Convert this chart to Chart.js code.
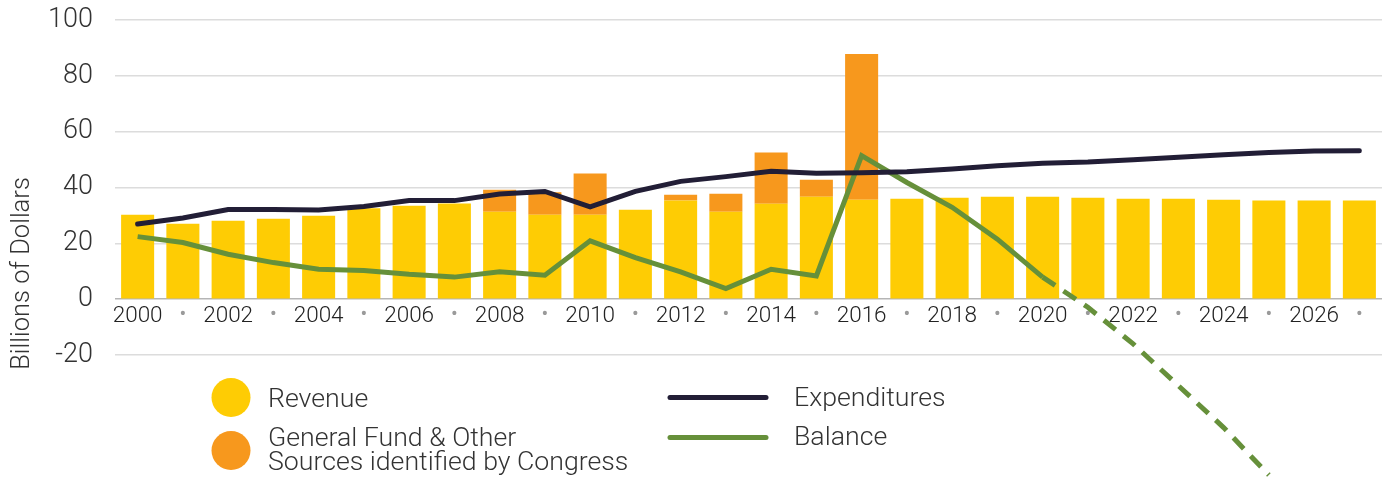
<!DOCTYPE html>
<html>
<head>
<meta charset="utf-8">
<script src="https://cdn.jsdelivr.net/npm/chart.js@4"></script>
<style>
  body { margin: 0; background: #fff; }
  #wrap { width: 1386px; height: 483px; position: relative; }
</style>
</head>
<body>
<div id="wrap"><canvas id="trustChart"></canvas></div>
<script>
const years = ['2000','2001','2002','2003','2004','2005','2006','2007','2008','2009',
    '2010','2011','2012','2013','2014','2015','2016','2017','2018','2019',
    '2020','2021','2022','2023','2024','2025','2026','2027'];

const revenue = [30.2, 27.0, 28.1, 28.8, 29.9, 32.6, 33.5, 34.3, 31.3, 30.2,
    30.2, 32.0, 35.3, 31.3, 34.2, 36.7, 35.6, 36.0, 36.3, 36.7,
    36.7, 36.3, 36.0, 36.0, 35.6, 35.3, 35.3, 35.3];

const generalFund = [0, 0, 0, 0, 0, 0, 0, 0, 7.9, 8.1,
    14.8, 0, 2.1, 6.5, 18.3, 6.1, 52.2, 0, 0, 0,
    0, 0, 0, 0, 0, 0, 0, 0];

const expenditures = [26.9, 29.1, 32.1, 32.1, 31.9, 33.2, 35.3, 35.3, 37.7, 38.6,
    33.1, 38.6, 42.2, 43.9, 45.8, 45.1, 45.3, 45.6, 46.6, 47.8,
    48.7, 49.1, 49.9, 50.8, 51.7, 52.5, 53.1, 53.2];

// projected part (after 2020) is drawn dashed
const balance = [22.4, 20.3, 16.1, 13.1, 10.7, 10.3, 8.9, 7.9, 9.8, 8.6,
    20.9, 14.9, 9.8, 3.8, 10.7, 8.3, 51.4, 41.8, 32.9, 21.5,
    7.9, -2.9, -16, -31, -46, -63, null, null];

const yTicks = [-20, 0, 20, 40, 60, 80, 100];

const YELLOW = '#FECC04';
const ORANGE = '#F7981D';
const NAVY = '#221E36';
const GREEN = '#66903A';
const FONT = 'Roboto, "Noto Sans", sans-serif';

// legend + axis title drawn by hand, the layout is too odd for the built-in legend
const customLegend = {
    id: 'customLegend',
    afterDraw(chart) {
        const ctx = chart.ctx;
        const ds = chart.data.datasets;
        ctx.save();

        ctx.fillStyle = '#333';
        ctx.font = '300 25.5px ' + FONT;
        ctx.translate(29, 273.5);
        ctx.rotate(-Math.PI / 2);
        ctx.textAlign = 'center';
        ctx.textBaseline = 'alphabetic';
        ctx.fillText('Billions of Dollars', 0, 0);
        ctx.setTransform(1, 0, 0, 1, 0, 0);

        ctx.font = '300 26.7px ' + FONT;
        ctx.textAlign = 'left';

        ctx.fillStyle = ds[0].backgroundColor;
        ctx.beginPath();
        ctx.arc(231, 397.5, 19.5, 0, Math.PI * 2);
        ctx.fill();
        ctx.fillStyle = '#333';
        ctx.fillText(ds[0].label, 268, 406.5);

        ctx.fillStyle = ds[1].backgroundColor;
        ctx.beginPath();
        ctx.arc(231, 450.5, 19.5, 0, Math.PI * 2);
        ctx.fill();
        ctx.fillStyle = '#333';
        const parts = ds[1].label.split('\n');
        ctx.fillText(parts[0], 268, 446);
        ctx.fillText(parts[1], 268, 470);

        ctx.lineWidth = 5;
        ctx.lineCap = 'round';
        [[ds[2], 397.5, 406], [ds[3], 437.5, 445]].forEach(([d, ly, ty]) => {
            ctx.strokeStyle = d.borderColor;
            ctx.beginPath();
            ctx.moveTo(670, ly);
            ctx.lineTo(766, ly);
            ctx.stroke();
            ctx.fillStyle = '#333';
            ctx.fillText(d.label, 794, ty);
        });

        ctx.restore();
    }
};

new Chart(document.getElementById('trustChart'), {
    data: {
        labels: years,
        datasets: [
            {
                type: 'bar',
                label: 'Revenue',
                data: revenue,
                backgroundColor: YELLOW,
                stack: 'funds',
                order: 3
            },
            {
                type: 'bar',
                label: 'General Fund & Other\nSources identified by Congress',
                data: generalFund,
                backgroundColor: ORANGE,
                stack: 'funds',
                order: 3
            },
            {
                type: 'line',
                label: 'Expenditures',
                data: expenditures,
                borderColor: NAVY,
                borderWidth: 5,
                borderCapStyle: 'round',
                pointRadius: 0,
                tension: 0,
                stack: 'exp',
                order: 1
            },
            {
                type: 'line',
                label: 'Balance',
                data: balance,
                borderColor: GREEN,
                borderWidth: 5,
                borderCapStyle: 'butt',
                pointRadius: 0,
                tension: 0,
                clip: false,
                spanGaps: false,
                stack: 'bal',
                order: 2,
                segment: {
                    borderDash: c => c.p0DataIndex >= 20 ? [15, 10] : undefined
                }
            }
        ]
    },
    options: {
        responsive: true,
        maintainAspectRatio: false,
        animation: false,
        events: [],
        layout: {
            padding: { left: 0, right: 4, top: 20, bottom: 128 }
        },
        datasets: {
            bar: {
                barPercentage: 0.73,
                categoryPercentage: 1
            }
        },
        scales: {
            x: {
                type: 'category',
                stacked: true,
                position: { y: 0 },
                afterFit: scale => { scale.height = 0; },
                grid: { display: false },
                border: { display: false },
                ticks: {
                    autoSkip: false,
                    maxRotation: 0,
                    padding: -4,
                    callback: function(value, index) {
                        return index % 2 === 0 ? this.getLabelForValue(value) : '•';
                    },
                    color: c => c.index % 2 === 0 ? '#222' : '#9a9a9a',
                    font: c => c.index % 2 === 0
                        ? { family: FONT, size: 22.5, weight: 300 }
                        : { family: FONT, size: 20, weight: 400 }
                }
            },
            y: {
                stacked: true,
                min: -20,
                max: 100,
                afterFit: scale => { scale.width = 115; },
                afterBuildTicks: scale => {
                    scale.ticks = yTicks.map(v => ({ value: v }));
                },
                grid: {
                    // invisible tick marks give the label gap without the
                    // extra top padding that ticks.padding adds on y axes
                    drawTicks: true,
                    tickLength: 22,
                    tickColor: 'rgba(0,0,0,0)',
                    lineWidth: 1.5,
                    color: c => c.tick && c.tick.value === 0 ? '#b5b5b5' : '#dcdcdc'
                },
                border: { display: false },
                ticks: {
                    padding: 0,
                    color: '#333',
                    font: { family: FONT, size: 27, weight: 300 }
                }
            }
        },
        plugins: {
            legend: { display: false },
            tooltip: { enabled: false }
        }
    },
    plugins: [customLegend]
});
</script>
</body>
</html>
